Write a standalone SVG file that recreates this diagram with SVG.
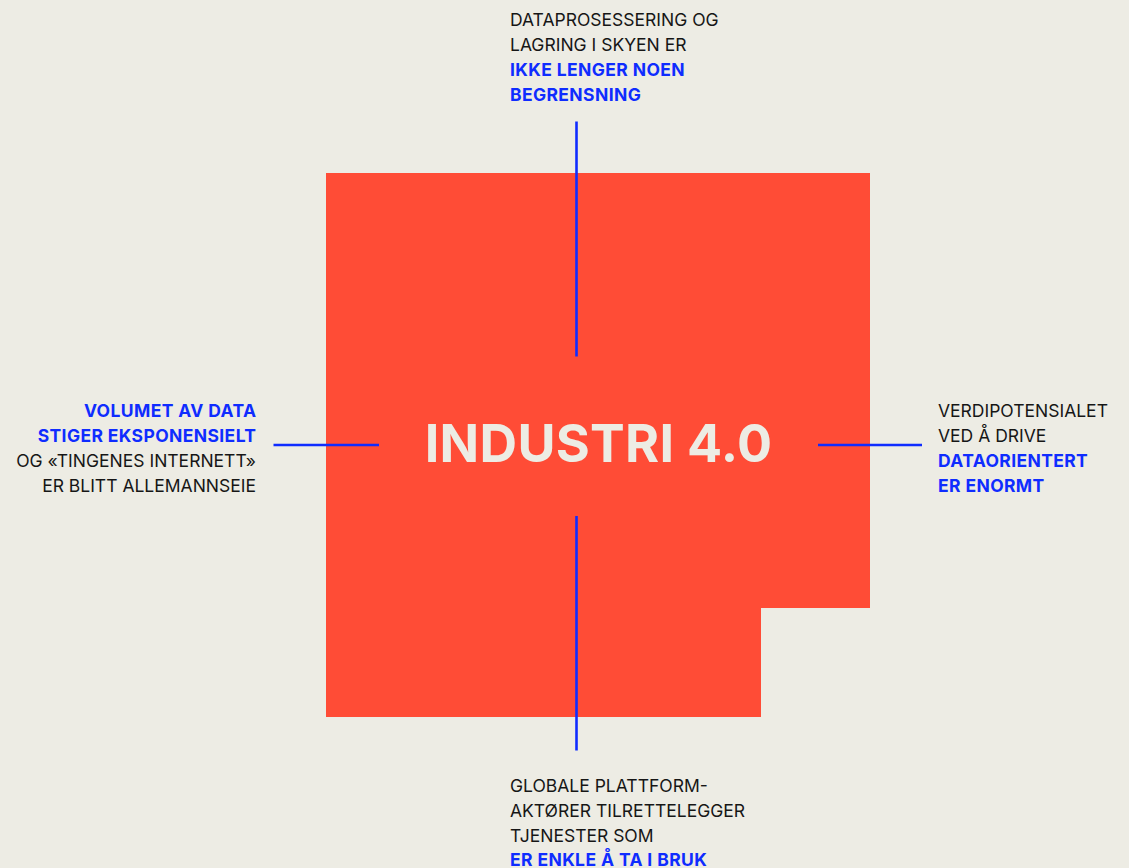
<svg xmlns="http://www.w3.org/2000/svg" width="1129" height="868" viewBox="0 0 1129 868">
  <style>
    .bg { fill: #EDECE4; }
    .block { fill: #FF4C36; }
    .title { font-family: Inter, "Noto Sans", "Liberation Sans", sans-serif; font-weight: 700; font-size: 52px; fill: #EDECE4; letter-spacing: 0.3px; }
    .txt { font-family: Inter, "Noto Sans", "Liberation Sans", sans-serif; font-size: 17.5px; fill: #161616; }
    .hl { font-weight: 700; fill: #0F2CFF; letter-spacing: 0.38px; }
    .link { stroke: #0F2CFF; stroke-width: 2.6; fill: none; }
  </style>
  <rect class="bg" x="0" y="0" width="1129" height="868"/>

  <g id="industri">
    <path class="block" d="M326 173 H870 V608 H761 V717 H326 Z"/>
    <text class="title" x="598.5" y="461.5" text-anchor="middle">INDUSTRI 4.0</text>
  </g>

  <g id="connectors">
    <line class="link" x1="576.5" y1="121.5" x2="576.5" y2="356.5"/>
    <line class="link" x1="576.5" y1="516" x2="576.5" y2="750.5"/>
    <line class="link" x1="273.5" y1="445" x2="379" y2="445"/>
    <line class="link" x1="818" y1="445" x2="922" y2="445"/>
  </g>

  <g id="cloud">
    <text class="txt" x="510" y="26">DATAPROSESSERING OG</text>
    <text class="txt" x="510" y="51">LAGRING I SKYEN ER</text>
    <text class="txt hl" x="510" y="76">IKKE LENGER NOEN</text>
    <text class="txt hl" x="510" y="101">BEGRENSNING</text>
  </g>

  <g id="data-volume">
    <text class="txt hl" x="256.4" y="417" text-anchor="end">VOLUMET AV DATA</text>
    <text class="txt hl" x="256.4" y="442" text-anchor="end">STIGER EKSPONENSIELT</text>
    <text class="txt" x="256" y="467" text-anchor="end">OG «TINGENES INTERNETT»</text>
    <text class="txt" x="256" y="492" text-anchor="end">ER BLITT ALLEMANNSEIE</text>
  </g>

  <g id="value">
    <text class="txt" x="938" y="417">VERDIPOTENSIALET</text>
    <text class="txt" x="938" y="442">VED Å DRIVE</text>
    <text class="txt hl" x="938" y="467">DATAORIENTERT</text>
    <text class="txt hl" x="938" y="492">ER ENORMT</text>
  </g>

  <g id="platforms">
    <text class="txt" x="510" y="792">GLOBALE PLATTFORM-</text>
    <text class="txt" x="510" y="817">AKTØRER TILRETTELEGGER</text>
    <text class="txt" x="510" y="842">TJENESTER SOM</text>
    <text class="txt hl" x="510" y="866">ER ENKLE Å TA I BRUK</text>
  </g>
</svg>
